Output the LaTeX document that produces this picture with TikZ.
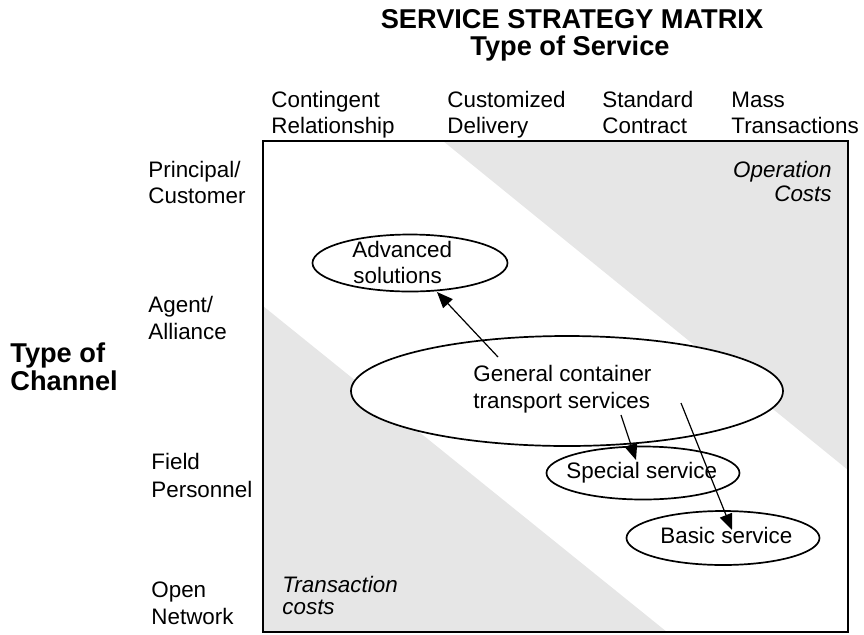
\documentclass[tikz,border=0pt]{standalone}
\usepackage{fontspec}
\setmainfont{Liberation Sans}
\usetikzlibrary{shapes.geometric,arrows.meta}
\definecolor{bandgray}{RGB}{230,230,230}

\begin{document}
\begin{tikzpicture}[x=0.5pt,y=-0.5pt,
  every node/.style={inner sep=0pt,font=\fontsize{11.2}{13.1}\selectfont},
  head/.style={anchor=base west,align=left},
  title/.style={font=\fontsize{13.6}{14}\selectfont\bfseries},
  costs/.style={font=\fontsize{11.2}{11.8}\selectfont\itshape},
  oval/.style={draw,ellipse,line width=0.85pt,fill=white},
  link/.style={line width=0.6pt,-{Triangle[length=8pt,width=6.5pt]}}]
\useasboundingbox (0,0) rectangle (864,634);
% shaded cost areas
\fill [bandgray] (443,141) -- (848,141) -- (848,470) -- cycle;
\fill [bandgray] (263,306) -- (263,632) -- (667,632) -- cycle;
\draw [line width=0.8pt] (263,141) rectangle (848,632);
% titles
\node [title,anchor=base] (ttl) at (572,28) {SERVICE STRATEGY MATRIX};
\node [title,anchor=base] (svc) at (570,55) {Type of Service};
\node [title,anchor=base west] (chn1) at (10,362) {Type of};
\node [title,anchor=base west] (chn2) at (10,390) {Channel};
% column heads
\node [head] (c1) at (271,107) {Contingent};
\node [head] (c1b) at (271,133) {Relationship};
\node [head] (c2) at (447,107) {Customized};
\node [head] (c2b) at (447,133) {Delivery};
\node [head] (c3) at (602,107) {Standard};
\node [head] (c3b) at (602,133) {Contract};
\node [head] (c4) at (731,107) {Mass};
\node [head] (c4b) at (731,133) {Transactions};
% row heads
\node [head] (r1) at (148,177) {Principal/};
\node [head] (r1b) at (148,203) {Customer};
\node [head] (r2) at (148,312) {Agent/};
\node [head] (r2b) at (148,339) {Alliance};
\node [head] (r3) at (151,469) {Field};
\node [head] (r3b) at (151,497) {Personnel};
\node [head] (r4) at (151,597) {Open};
\node [head] (r4b) at (151,624) {Network};
% cost labels
\node [costs,anchor=base east] (opc) at (832,177) {Operation};
\node [costs,anchor=base east] (opcb) at (832,201) {Costs};
\node [costs,anchor=base west] (trc) at (282,592) {Transaction};
\node [costs,anchor=base west] (trcb) at (282,614) {costs};
% services
\node [oval,minimum width=97.5pt,minimum height=28.5pt] (adv) at (410,263) {};
\node [head] (advtxt) at (352,257) {Advanced};
\node [head] (advtxtb) at (353,283) {solutions};
\node [oval,minimum width=216pt,minimum height=55pt] (gen) at (567,391) {};
\node [head] (gentxt) at (473,381) {General container};
\node [head] (gentxtb) at (473,408) {transport services};
\node [oval,minimum width=96.5pt,minimum height=26.5pt] (spc) at (643,473) {};
\node [head] (spctxt) at (566,478) {Special service};
\node [oval,minimum width=96.5pt,minimum height=27pt] (bas) at (723,538) {};
\node [head] (bastxt) at (660,543) {Basic service};
% arrows
\coordinate (a1) at (498,357);
\coordinate (a2) at (621,415);
\coordinate (a3) at (681,403);
\coordinate (advtip) at (437,292);
\coordinate (spctip) at (636,460);
\coordinate (bastip) at (732,530);
\draw [link] (a1) -- (advtip);
\draw [link] (a2) -- (spctip);
\draw [link] (a3) -- (bastip);
\end{tikzpicture}
\end{document}
